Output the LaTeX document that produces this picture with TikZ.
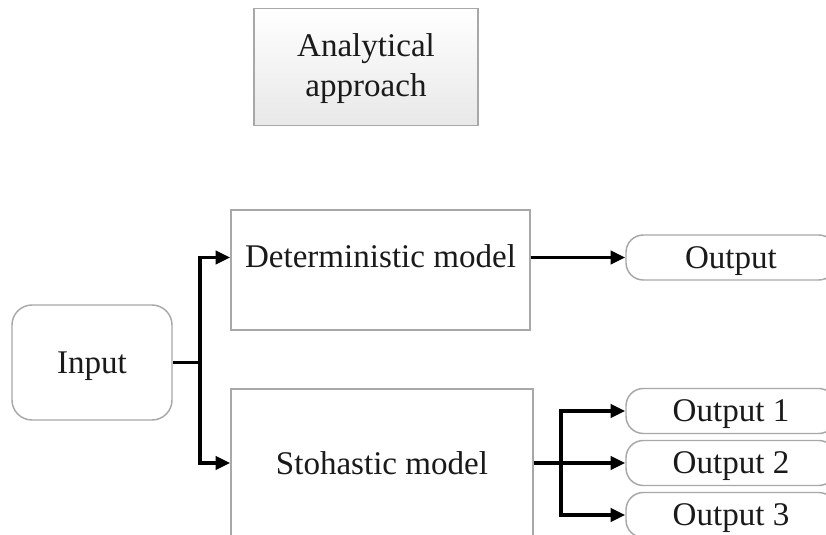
\documentclass[tikz,border=0pt]{standalone}
\usepackage{fontspec}
\setmainfont{Liberation Serif}
\usetikzlibrary{arrows.meta,calc}
\definecolor{edge}{HTML}{A8A8A8}
\definecolor{ink}{HTML}{1A1A1A}
\begin{document}
\begin{tikzpicture}[x=0.75pt,y=-0.75pt,
  lbl/.style={font=\fontsize{24.8}{30}\selectfont, text=ink, inner sep=0pt, text depth=0pt},
  sqbox/.style={draw=edge, line width=1.1pt, fill=white, inner sep=0pt},
  rbox/.style={sqbox, rounded corners=15pt},
  pill/.style={sqbox, rounded corners=13pt, minimum width=157.5pt, minimum height=33.75pt},
  arr/.style={draw=black, line width=2.5pt, -{Triangle[length=11pt,width=10pt]}},
  ln/.style={draw=black, line width=2.5pt}]
\useasboundingbox (0,0) rectangle (826,535);
\clip (0,0) rectangle (826,535);

% Analytical approach
\node[sqbox, top color=white, bottom color=black!9, minimum width=168pt, minimum height=87.75pt] (ana) at (366,67) {};
\node[font=\fontsize{24.8}{30}\selectfont, text=ink, inner sep=0pt, align=center] (anat) at (366,69) {Analytical\\approach};

% Input
\node[rbox, minimum width=120pt, minimum height=86.25pt, lbl] (inp) at (92,362.5) {Input};

% Deterministic
\node[sqbox, minimum width=224.25pt, minimum height=90pt] (det) at (380.5,270) {};
\node[lbl] (dett) at (380.5,256) {Deterministic model};

% Stochastic
\node[sqbox, minimum width=226.5pt, minimum height=111pt, lbl] (sto) at (382,463) {Stohastic model};

% Outputs
\node[pill, lbl] (out) at (731,257.5) {Output};
\node[pill, lbl] (o1) at (731,411) {Output 1};
\node[pill, lbl] (o2) at (731,463) {Output 2};
\node[pill, lbl] (o3) at (731,515) {Output 3};

% Connectors
\coordinate (sp1) at (200,362.5);
\coordinate (sp2) at (561,463);
\draw[ln] (inp.east) -- (sp1);
\draw[arr] (sp1) |- (det.west |- out.west);
\draw[arr] (sp1) |- (sto.west);
\draw[arr] (det.east |- out.west) -- (out.west);
\draw[ln] (sto.east) -- (sp2);
\draw[arr] (sp2) |- (o1.west);
\draw[arr] (sp2) -- (o2.west);
\draw[arr] (sp2) |- (o3.west);
\end{tikzpicture}
\end{document}
